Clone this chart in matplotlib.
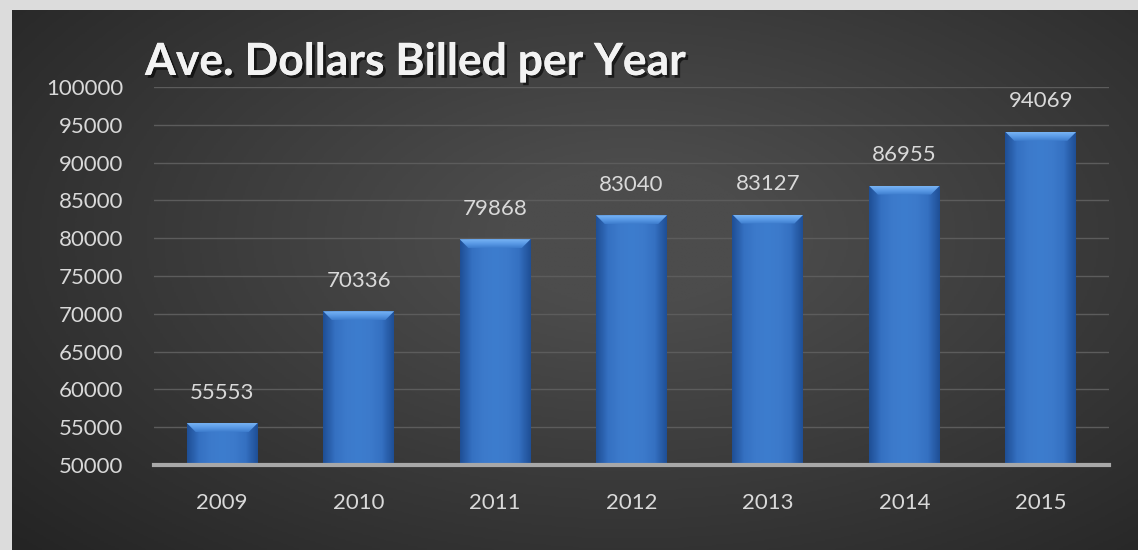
import numpy as np
import matplotlib
matplotlib.use("Agg")
import matplotlib.pyplot as plt
from matplotlib import patheffects as pe
from matplotlib.colors import LinearSegmentedColormap
from matplotlib.patches import Polygon

years = ["2009", "2010", "2011", "2012", "2013", "2014", "2015"]
dollars = [55553, 70336, 79868, 83040, 83127, 86955, 94069]
y_ticks = [50000, 55000, 60000, 65000, 70000, 75000, 80000, 85000, 90000, 95000, 100000]
title = "Ave. Dollars Billed per Year"

W, H = 1138, 550
fig = plt.figure(figsize=(W / 100, H / 100), dpi=100)
fig.patch.set_facecolor("#dcdcdc")

# dark panel with a soft radial glow
bg = fig.add_axes([12 / W, 0, 1 - 12 / W, 1 - 10 / H])
bg.set_axis_off()
yy, xx = np.mgrid[0:1:300j, 0:1:600j]
r = np.sqrt(((xx - 0.55) / 0.75) ** 2 + ((yy - 0.42) / 0.85) ** 2)
shade = np.clip(1 - r, 0, 1)
bg_cmap = LinearSegmentedColormap.from_list("panel", ["#242424", "#4c4c4c"])
bg.imshow(shade, cmap=bg_cmap, aspect="auto", extent=[0, 1, 0, 1], vmin=0, vmax=0.85)
bg.set_xlim(0, 1)
bg.set_ylim(0, 1)

ax = fig.add_axes([154 / W, (H - 465) / H, (1109 - 154) / W, (465 - 87) / H])
ax.patch.set_alpha(0)
x = np.arange(len(years))
bars = ax.bar(x, dollars, width=0.52, bottom=0, color="#3b78c9", zorder=3)
ax.set_ylim(y_ticks[0], y_ticks[-1])
ax.set_xlim(-0.5, len(years) - 0.5)

# bevelled blue shading on each bar
bar_cmap = LinearSegmentedColormap.from_list(
    "bar", ["#1f4f96", "#3571c2", "#3c7acb", "#3d7dce", "#3c7acb", "#3571c2", "#1f4f96"])
grad = np.tile(np.linspace(0, 1, 64), (64, 1))
top_cmap = LinearSegmentedColormap.from_list("bevel", ["#3d7ccc", "#5a9ae6", "#78b4f4"])
vgrad = np.linspace(0, 1, 32)[:, None] * np.ones((1, 8))
px_y = (y_ticks[-1] - y_ticks[0]) / 378.0
px_x = len(years) / 955.0
for rect, val in zip(bars, dollars):
    x0 = rect.get_x()
    w = rect.get_width()
    im = ax.imshow(grad, cmap=bar_cmap, aspect="auto",
                   extent=[x0, x0 + w, y_ticks[0], val], zorder=3.1)
    im.set_clip_path(rect)
    dy = 9 * px_y
    dx = 9 * px_x
    bevel = Polygon([(x0, val), (x0 + w, val), (x0 + w - dx, val - dy), (x0 + dx, val - dy)],
                    closed=True, facecolor="none", edgecolor="none", zorder=3.2)
    ax.add_patch(bevel)
    bim = ax.imshow(vgrad, cmap=top_cmap, aspect="auto", origin="lower",
                    extent=[x0, x0 + w, val - dy, val], zorder=3.2)
    bim.set_clip_path(bevel)
    ax.text(x0 + w / 2, val + 2700, f"{val}", ha="center", va="bottom",
            color="#d9d9d9", fontsize=16, family="Lato", zorder=4)

ax.set_yticks(y_ticks)
ax.set_yticklabels([str(t) for t in y_ticks])
ax.set_xticks(x)
ax.set_xticklabels(years)
ax.grid(axis="y", color="#5c5c5c", lw=1, zorder=1)
ax.tick_params(axis="both", length=0, colors="#d9d9d9", labelsize=16)
ax.tick_params(axis="y", pad=22)
ax.tick_params(axis="x", pad=20)
for lab in ax.get_xticklabels() + ax.get_yticklabels():
    lab.set_family("Lato")
for s in ["top", "right", "left"]:
    ax.spines[s].set_visible(False)
ax.spines["bottom"].set_color("#a8a8a8")
ax.spines["bottom"].set_linewidth(3)
ax.spines["bottom"].set_zorder(5)

fig.text(145 / W, 1 - 75 / H, title, ha="left", va="baseline", color="#f2f2f2",
         fontsize=32, fontweight="bold", family="Lato",
         path_effects=[pe.withSimplePatchShadow(offset=(2, -2), shadow_rgbFace="black", alpha=0.6),
                       pe.Normal()])

fig.savefig("out.png", dpi=100, facecolor=fig.get_facecolor())
